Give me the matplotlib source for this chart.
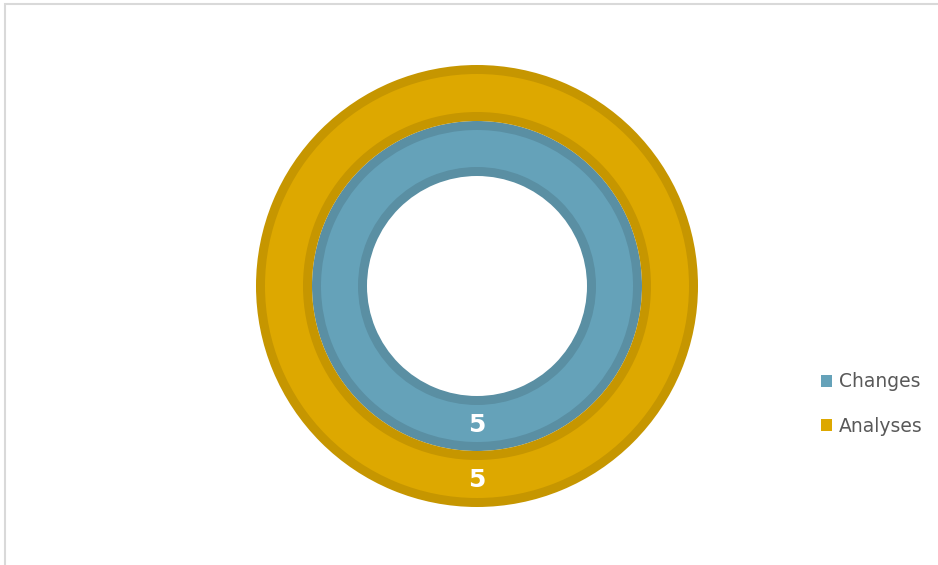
import matplotlib
matplotlib.use("Agg")
import matplotlib.pyplot as plt
from matplotlib.patches import Patch, Rectangle

# ---- data ----
series = ["Changes", "Analyses"]          # inner -> outer
values = [[5], [5]]
fill_colors = ["#65A2B9", "#DDA800"]
edge_colors = ["#5A8FA3", "#C69600"]

W, H = 938, 565
fig = plt.figure(figsize=(W / 100, H / 100), dpi=100)
ax = fig.add_axes([0, 0, 1, 1])

cx, cy = 477, 286
ring_bounds = [(110, 165), (165, 221)]   # (inner, outer) radius in px
band = 9

for vals, fc, ec, (r_in, r_out) in zip(values, fill_colors, edge_colors, ring_bounds):
    # darker base ring
    ax.pie(vals, radius=r_out, center=(cx, cy), colors=[ec], frame=True,
           startangle=90, wedgeprops=dict(width=r_out - r_in, linewidth=0))
    # lighter inner fill
    ax.pie(vals, radius=r_out - band, center=(cx, cy), colors=[fc], frame=True,
           startangle=90, wedgeprops=dict(width=r_out - r_in - 2 * band, linewidth=0))
    ax.text(cx, cy + (r_in + r_out) / 2 + 1, str(vals[0]), color="white",
            fontsize=18, fontweight="bold", family="DejaVu Sans",
            ha="center", va="center")

ax.set_xlim(0, W)
ax.set_ylim(H, 0)
ax.set_aspect("equal")
ax.axis("off")

handles = [Patch(facecolor=c, edgecolor="none") for c in fill_colors]
fig.legend(handles, series, loc="center left",
           bbox_to_anchor=(821 / W, 1 - 404 / H), frameon=False,
           fontsize=13.5, labelcolor="#595959", handlelength=0.6, handleheight=0.6,
           handletextpad=0.35, labelspacing=1.35, borderaxespad=0, borderpad=0)

# figure border
fig.patches.append(Rectangle((5 / W, -0.01), 1.0, 1 - 4 / H + 0.01,
                             transform=fig.transFigure, fill=False,
                             edgecolor="#D9D9D9", linewidth=1.5, clip_on=False))

fig.savefig("out.png", dpi=100)
